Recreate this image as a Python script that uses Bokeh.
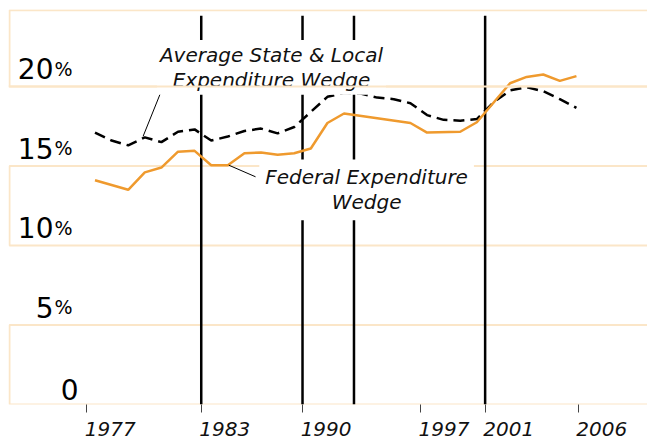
from bokeh.plotting import figure
from bokeh.models import Range1d, FixedTicker, Label, Span
from bokeh.core.properties import value
from bokeh.embed import file_html
from bokeh.resources import INLINE

# ---- data ----
fed_years = [1977, 1979, 1980, 1981, 1982, 1983, 1984, 1985, 1986, 1987, 1988,
             1989, 1990, 1991, 1992, 1996, 1997, 1999, 2000, 2002, 2003, 2004,
             2005, 2006]
fed_wedge = [14.1, 13.5, 14.6, 14.9, 15.9, 15.95, 15.05, 15.05, 15.8, 15.85, 15.7,
             15.8, 16.1, 17.7, 18.3, 17.7, 17.1, 17.15, 17.75, 20.2, 20.6, 20.75,
             20.35, 20.65]

sl_years = list(range(1977, 2007))
sl_wedge = [17.1, 16.6, 16.3, 16.8, 16.5, 17.15, 17.3, 16.6, 16.85, 17.2, 17.35,
            17.05, 17.45, 18.4, 19.35, 19.6, 19.55, 19.3, 19.2, 18.95, 18.2, 17.9,
            17.85, 17.95, 19.0, 19.75, 19.95, 19.7, 19.2, 18.65]

tick_pos = [1977.0, 1983.9, 1990.0, 1997.1, 2001.0, 2006.6]
tick_labels = ["1977", "1983", "1990", "1997", "2001", "2006"]
event_pos = [1983.9, 1990.0, 1993.1, 2001.0]

band_bottoms = [0, 10, 20]
band_tops = [5, 15, 24.8]

ytick_vals = [20, 15, 10, 5]
ytick_nums = ["20", "15", "10", "5"]

ORANGE = "#ef9a2e"
PEACH = "#fbe6c8"
FONT = "DejaVu Sans"

x0, x1 = 1972.29, 2010.78
p = figure(width=647, height=445, output_backend="svg", toolbar_location=None,
           x_range=Range1d(x0, x1), y_range=Range1d(0, 24.84),
           min_border_left=8, min_border_right=0, min_border_top=9,
           min_border_bottom=41)
p.outline_line_color = None
p.background_fill_color = "white"
p.xgrid.visible = False
p.ygrid.visible = False
p.yaxis.visible = False

# background bands
p.quad(left=[x0 + 0.06] * 3, right=[x1 + 2] * 3, bottom=band_bottoms, top=band_tops,
       fill_color="white", line_color=PEACH, line_width=2)

# event lines
p.segment(x0=event_pos, y0=[0] * len(event_pos), x1=event_pos,
          y1=[24.45] * len(event_pos), line_color="black", line_width=2.5)

# series (plotted at mid-year)
p.line([y + 0.5 for y in sl_years], sl_wedge, line_color="black", line_width=2.5,
       line_dash="11 6")
p.line([y + 0.5 for y in fed_years], fed_wedge, line_color=ORANGE, line_width=2.5)

# leader lines
p.line([1981.63, 1980.40], [20.06, 16.87], line_color="black", line_width=1)
p.line([1985.56, 1987.17], [15.05, 14.32], line_color="black", line_width=1)

# y labels
p.text(x=[1975.0] * 4, y=[v + 1.1 for v in ytick_vals], text=ytick_nums,
       text_font=value(FONT), text_font_size="28px", text_align="right",
       text_baseline="alphabetic", text_color="black")
p.text(x=[1975.06] * 4, y=[v + 1.1 for v in ytick_vals], text=["%"] * 4,
       text_font=value(FONT), text_font_size="19px", text_align="left",
       text_baseline="alphabetic", text_color="black")
p.text(x=[1976.51], y=[0.95], text=["0"], text_font=value(FONT),
       text_font_size="28px", text_align="right", text_baseline="alphabetic",
       text_color="black")

# annotations
p.add_layout(Label(x=1988.13, y=21.2, text="Average State & Local\nExpenditure Wedge",
                   text_font=FONT, text_font_style="italic", text_font_size="20px",
                   text_color="#111111",
                   text_align="center", text_baseline="middle", text_line_height=1.03,
                   background_fill_color="white", padding=3))
p.add_layout(Span(location=20, dimension="width", line_color=PEACH, line_width=2))
p.add_layout(Label(x=1993.86, y=13.5, text="Federal Expenditure\nWedge",
                   text_font=FONT, text_font_style="italic", text_font_size="20px",
                   text_color="#111111",
                   text_align="center", text_baseline="middle", text_line_height=1.03,
                   background_fill_color="white", padding=6))

# x axis: labels sit to the right of their tick marks (ticks drawn as minor ticks)
label_pos = [t + 1.42 for t in tick_pos]
ax = p.xaxis[0]
ax.ticker = FixedTicker(ticks=label_pos, minor_ticks=tick_pos)
ax.major_label_overrides = {t: l for t, l in zip(label_pos, tick_labels)}
ax.axis_line_color = None
ax.major_tick_line_color = None
ax.minor_tick_line_color = "#444444"
ax.minor_tick_out = 8
ax.minor_tick_in = 0
ax.major_tick_out = 8
ax.major_tick_in = 0
ax.major_label_standoff = 9
ax.major_label_text_font = FONT
ax.major_label_text_font_style = "italic"
ax.major_label_text_font_size = "20px"
ax.major_label_text_color = "#111111"

open("out.html", "w").write(file_html(p, INLINE))
